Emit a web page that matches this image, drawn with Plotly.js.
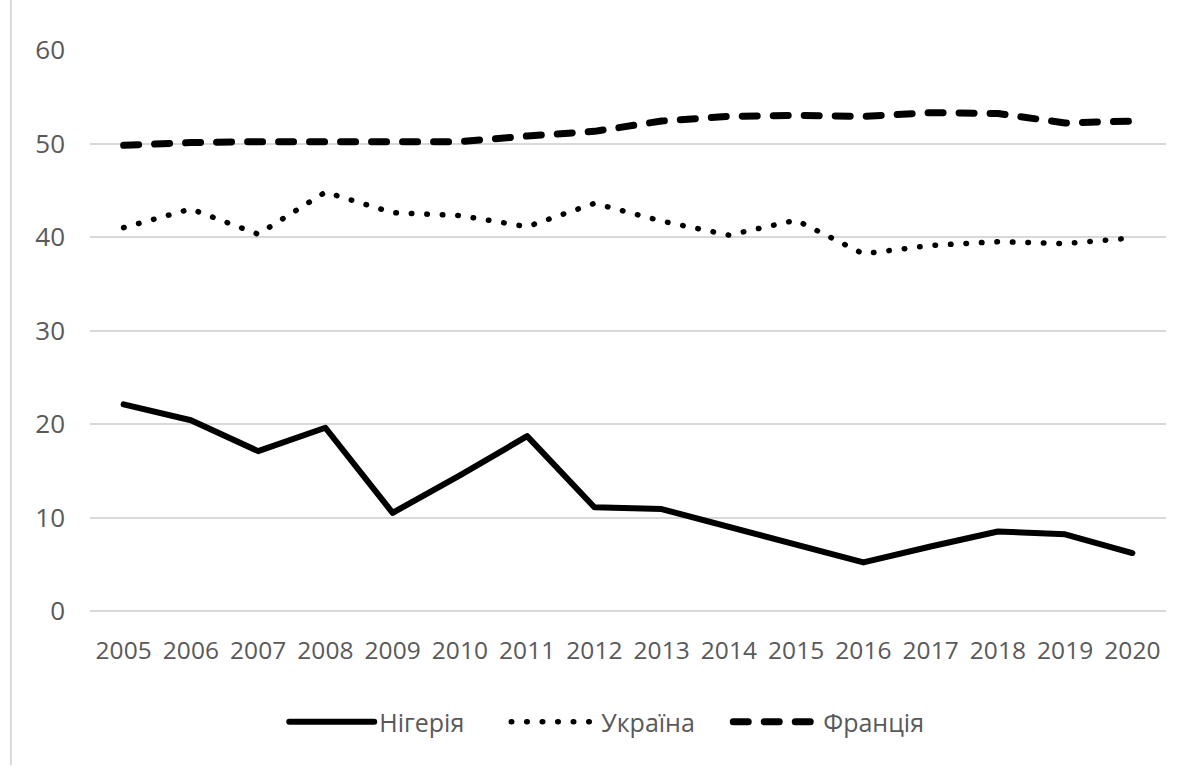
<!DOCTYPE html>
<html>
<head>
<meta charset="utf-8">
<script src="https://cdn.plot.ly/plotly-3.0.1.min.js"></script>
<style>
html, body { margin: 0; padding: 0; background: #fff; }
#chart { width: 1191px; height: 769px; }
.scatterlayer .js-line, .legendlines path { stroke-linecap: round !important; stroke-linejoin: round !important; }
</style>
</head>
<body>
<div id="chart"></div>
<script>
const years = [2005, 2006, 2007, 2008, 2009, 2010, 2011, 2012, 2013, 2014, 2015, 2016, 2017, 2018, 2019, 2020];
const nigeria = [22.1, 20.4, 17.1, 19.6, 10.5, 14.5, 18.7, 11.1, 10.9, 9.0, 7.1, 5.2, 6.9, 8.5, 8.2, 6.2];
const ukraine = [41.0, 43.0, 40.3, 44.8, 42.6, 42.3, 41.1, 43.6, 41.7, 40.2, 41.8, 38.2, 39.1, 39.5, 39.3, 39.9];
const france = [49.8, 50.1, 50.2, 50.2, 50.2, 50.2, 50.8, 51.3, 52.4, 52.9, 53.0, 52.9, 53.3, 53.2, 52.2, 52.4];
const seriesNames = ['Нігерія', 'Україна', 'Франція'];
const yTicks = [0, 10, 20, 30, 40, 50, 60];

const font = 'Open Sans, sans-serif';
const grey = '#595959';

const traces = [
  { x: years, y: nigeria, name: seriesNames[0], mode: 'lines', type: 'scatter',
    line: { color: '#000', width: 6 } },
  { x: years, y: ukraine, name: seriesNames[1], mode: 'lines', type: 'scatter',
    line: { color: '#000', width: 5.5, dash: '0.5px,15px' } },
  { x: years, y: france, name: seriesNames[2], mode: 'lines', type: 'scatter',
    line: { color: '#000', width: 7, dash: '15px,16px' } }
];

const layout = {
  width: 1191, height: 769,
  margin: { l: 90, r: 25, t: 50, b: 158 },
  paper_bgcolor: '#fff', plot_bgcolor: '#fff',
  showlegend: true,
  legend: { orientation: 'h', x: 0.49, xanchor: 'center', y: -0.198, yanchor: 'middle',
    font: { family: font, size: 25, color: grey }, itemwidth: 85, entrywidth: 122, traceorder: 'normal' },
  xaxis: { range: [2004.5, 2020.5], tickvals: years, ticktext: years.map(String),
    showgrid: false, zeroline: false, showline: false, ticks: '',
    ticklabelstandoff: 22,
    tickfont: { family: font, size: 24.5, color: grey } },
  yaxis: { range: [0, 60], tickvals: yTicks, showgrid: true, gridcolor: '#d9d9d9', gridwidth: 2,
    zeroline: true, zerolinecolor: '#d9d9d9', zerolinewidth: 2, showline: false, ticks: '',
    ticklabelstandoff: 24,
    tickfont: { family: font, size: 26, color: grey } },
  shapes: [
    { type: 'line', xref: 'paper', yref: 'paper', x0: -0.0735, x1: -0.0735, y0: -0.275, y1: 1.09,
      line: { color: '#d9d9d9', width: 2 } }
  ]
};

Plotly.newPlot('chart', traces, layout, { displayModeBar: false, staticPlot: true });
</script>
</body>
</html>
